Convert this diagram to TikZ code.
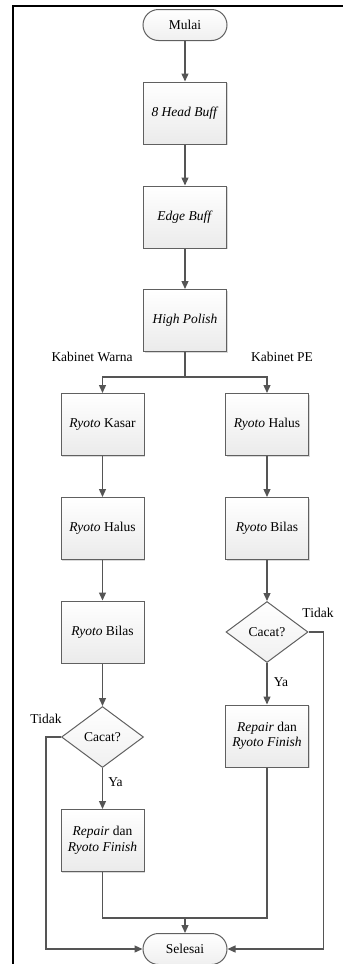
\documentclass[tikz,border=0pt]{standalone}
\usepackage{fontspec}
\setmainfont{Liberation Serif}
\usetikzlibrary{shapes.geometric,arrows.meta,shadows}
\definecolor{linec}{HTML}{555555}
\definecolor{edgec}{HTML}{606060}
\begin{document}
\begin{tikzpicture}[x=1pt,y=-1pt,
  font=\fontsize{13.5}{15.5}\selectfont,
  conn/.style={draw=linec,line width=1.3pt},
  arr/.style={conn,-{Triangle[length=8pt,width=7pt]}},
  procbox/.style={draw=edgec,line width=1pt,top color=white,bottom color=gray!16,
     minimum width=83pt,minimum height=62pt,inner sep=1pt,align=center,
     drop shadow={shadow xshift=1.2pt,shadow yshift=-1.2pt,opacity=0.3}},
  termbox/.style={draw=edgec,line width=1pt,top color=white,bottom color=gray!12,
     rounded corners=15.5pt,minimum width=84pt,minimum height=31pt,inner sep=1pt},
  decbox/.style={draw=edgec,line width=1pt,diamond,top color=white,bottom color=gray!12,
     minimum width=82pt,minimum height=61pt,inner sep=0pt},
  lbl/.style={inner sep=1pt}
]
\useasboundingbox (0,0) rectangle (343,964);
\draw[line width=2.2pt] (13,964) -- (13,6) -- (343,6);

\node[termbox] (mulai) at (185,25) {Mulai};
\node[procbox] (b1) at (185,113) {\textit{8 Head Buff}};
\node[procbox] (b2) at (185,217) {\textit{Edge Buff}};
\node[procbox] (b3) at (185,320.5) {\textit{High Polish}};

\node[lbl] (kw) at (92,357) {Kabinet Warna};
\node[lbl] (kpe) at (282,357) {Kabinet PE};

\node[procbox] (kasar) at (102.5,424.5) {\textit{Ryoto} Kasar};
\node[procbox] (lhalus) at (102.5,528.5) {\textit{Ryoto} Halus};
\node[procbox] (lbilas) at (102.5,632) {\textit{Ryoto} Bilas};
\node[decbox] (ld) at (102.5,737) {Cacat?};
\node[procbox] (lrep) at (102.5,840.5) {\textit{Repair} dan\\\textit{Ryoto Finish}};

\node[procbox] (rhalus) at (267,424.5) {\textit{Ryoto} Halus};
\node[procbox] (rbilas) at (267,528.5) {\textit{Ryoto} Bilas};
\node[decbox] (rd) at (267,632) {Cacat?};
\node[procbox] (rrep) at (267,736) {\textit{Repair} dan\\\textit{Ryoto Finish}};

\node[termbox] (selesai) at (185,949) {Selesai};

\node[lbl] (ltidak) at (46,719) {Tidak};
\node[lbl] (rtidak) at (318,613) {Tidak};
\node[lbl] (lya) at (115.5,782) {Ya};
\node[lbl] (rya) at (281,682) {Ya};

\coordinate (j) at (185,377);
\coordinate (mj) at (185,918);
\coordinate (lc) at (46,737);
\coordinate (rc) at (323.5,632);

\draw[arr] (mulai) -- (b1);
\draw[arr] (b1) -- (b2);
\draw[arr] (b2) -- (b3);
\draw[conn] (b3.south) -- (j);
\draw[arr] (j) -| (kasar.north);
\draw[arr] (j) -| (rhalus.north);

\draw[arr] (kasar) -- (lhalus);
\draw[arr] (lhalus) -- (lbilas);
\draw[arr] (lbilas) -- (ld);
\draw[arr] (ld) -- (lrep);
\draw[arr] (ld.west) -- (lc) |- (selesai.west);

\draw[arr] (rhalus) -- (rbilas);
\draw[arr] (rbilas) -- (rd);
\draw[arr] (rd) -- (rrep);
\draw[arr] (rd.east) -- (rc) |- (selesai.east);

\draw[conn] (lrep.south) |- (mj);
\draw[conn] (rrep.south) |- (mj);
\draw[arr] (mj) -- (selesai.north);
\end{tikzpicture}
\end{document}
